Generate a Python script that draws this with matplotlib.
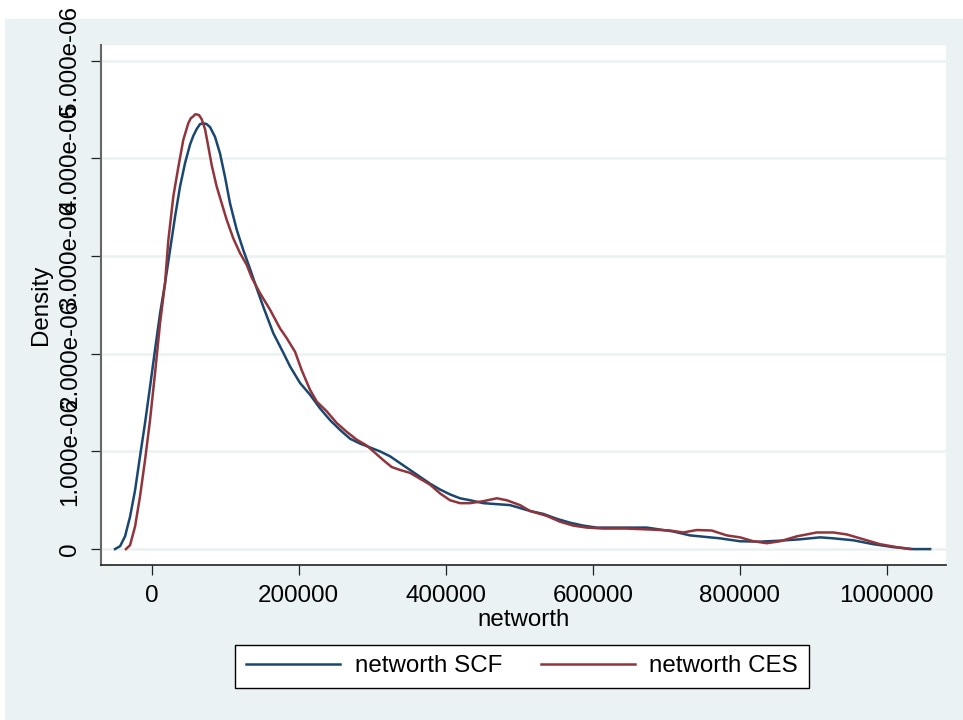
import matplotlib
matplotlib.use("Agg")
import matplotlib.pyplot as plt
from matplotlib.patches import Rectangle
from matplotlib.ticker import FixedLocator, FuncFormatter

plt.rcParams['font.family'] = ['Liberation Sans', 'DejaVu Sans']

# kernel density of networth, SCF sample (x in dollars, density in 1e-6)
scf_x = [-49900, -43000, -36300, -29500, -22700, -15900, -9100, -2300, 4500, 11300,
         18100, 24900, 31700, 38500, 45300, 52100, 56600, 61200, 65700, 70200, 74800, 79300, 86100,
         92900, 99700, 106500, 115600, 124600, 133700, 142800, 151800, 165400, 179000,
         188200, 201800, 215400, 229000, 242600, 256200, 269800, 283400, 297000, 310600,
         324200, 337800, 351400, 365000, 378600, 392200, 405800, 419400, 433000, 451100,
         469400, 487500, 501100, 514700, 532800, 551000, 569100, 587200, 605400, 632600,
         673400, 691500, 709600, 732400, 759500, 773200, 800400, 827600, 854800, 882000,
         909300, 927300, 954500, 981700, 1009000, 1036000, 1059000]
scf_y = [0.0, 0.03, 0.13, 0.33, 0.60, 0.95, 1.29, 1.66, 2.04, 2.41,
         2.72, 3.06, 3.40, 3.71, 3.95, 4.14, 4.23, 4.30, 4.35, 4.36, 4.35, 4.32, 4.22,
         4.05, 3.81, 3.54, 3.27, 3.06, 2.87, 2.67, 2.48, 2.21, 2.01,
         1.87, 1.70, 1.58, 1.44, 1.32, 1.22, 1.13, 1.08, 1.04, 1.00,
         0.95, 0.88, 0.81, 0.74, 0.67, 0.61, 0.56, 0.52, 0.50, 0.47,
         0.46, 0.45, 0.42, 0.39, 0.36, 0.31, 0.27, 0.24, 0.22, 0.22,
         0.22, 0.20, 0.18, 0.14, 0.12, 0.11, 0.08, 0.076, 0.086, 0.10,
         0.12, 0.11, 0.09, 0.05, 0.02, 0.0, 0.0]

# kernel density of networth, CES sample
ces_x = [-35000, -29500, -22700, -15900, -9100, -2300, 4500, 11300, 18100, 22600,
         29400, 36200, 43000, 49800, 53200, 56600, 59000, 61200, 64600, 68000, 72500, 77000, 81600,
         88400, 95200, 102000, 111000, 120100, 129200, 136000, 147300, 161000, 174500,
         183600, 195000, 204100, 215400, 224500, 238100, 251700, 265300, 278900, 292500,
         306100, 315100, 326500, 337800, 351400, 365000, 378600, 392200, 405800, 419400,
         433000, 451100, 469400, 483000, 501100, 514700, 537400, 555500, 573600, 591800,
         614400, 646200, 677900, 705100, 723200, 741500, 761800, 782300, 800400, 818500,
         836700, 854800, 877500, 904700, 927300, 945500, 968200, 990800, 1013500, 1031600]
ces_y = [0.0, 0.04, 0.23, 0.54, 0.91, 1.32, 1.80, 2.31, 2.72, 3.16,
         3.61, 3.91, 4.19, 4.36, 4.41, 4.43, 4.45, 4.45, 4.44, 4.40, 4.30, 4.12, 3.93,
         3.71, 3.54, 3.37, 3.18, 3.03, 2.91, 2.78, 2.62, 2.45, 2.26,
         2.16, 2.02, 1.83, 1.63, 1.51, 1.41, 1.29, 1.20, 1.12, 1.06,
         0.97, 0.91, 0.84, 0.81, 0.78, 0.72, 0.66, 0.57, 0.50, 0.47,
         0.47, 0.49, 0.52, 0.50, 0.45, 0.39, 0.34, 0.28, 0.24, 0.22,
         0.21, 0.21, 0.20, 0.19, 0.17, 0.195, 0.19, 0.14, 0.12, 0.08,
         0.06, 0.08, 0.13, 0.17, 0.17, 0.15, 0.10, 0.05, 0.02, 0.0]

x_ticks = [0, 200000, 400000, 600000, 800000, 1000000]
y_ticks = [0, 1, 2, 3, 4, 5]  # in units of 1e-6

blue = '#1A476F'
red = '#90353B'
bg = '#EAF2F3'

fig = plt.figure(figsize=(9.63, 7.2), dpi=100, facecolor='white')
fig.patches.append(Rectangle((5 / 963, 0), 1, (720 - 19) / 720, transform=fig.transFigure,
                             facecolor=bg, edgecolor='none', zorder=-10))

ax = fig.add_axes([101 / 963, (720 - 565) / 720, 845 / 963, 520 / 720])
ax.set_facecolor('white')

ax.plot(scf_x, [v * 1e-6 for v in scf_y], color=blue, lw=1.8, label='networth SCF', zorder=3)
ax.plot(ces_x, [v * 1e-6 for v in ces_y], color=red, lw=1.8, label='networth CES', zorder=3)

ax.set_xlim(-69000, 1080600)
ax.set_ylim(-0.163e-6, 5.16e-6)

ax.xaxis.set_major_locator(FixedLocator(x_ticks))
ax.xaxis.set_major_formatter(FuncFormatter(lambda v, p: '%d' % round(v)))
ax.yaxis.set_major_locator(FixedLocator([v * 1e-6 for v in y_ticks]))
ax.yaxis.set_major_formatter(FuncFormatter(lambda v, p: '0' if abs(v) < 1e-12 else '%.3e' % v))

for v in y_ticks:
    ax.axhline(v * 1e-6, color=bg, lw=1.8, zorder=1)

for s in ['top', 'right']:
    ax.spines[s].set_visible(False)
ax.spines['left'].set_color('#666666')
ax.spines['left'].set_linewidth(1.5)
ax.spines['bottom'].set_color('#222222')
ax.spines['bottom'].set_linewidth(1.2)

ax.tick_params(axis='both', direction='out', length=7.2, width=0.9, color='#222222',
               labelsize=17.4, pad=7)
plt.setp(ax.get_yticklabels(), rotation=90, va='center')

ax.set_xlabel('networth', fontsize=17.4, labelpad=2)
ax.set_ylabel('Density', fontsize=17.4, labelpad=5)

leg = fig.legend(loc='center', bbox_to_anchor=(522 / 963, (720 - 666.5) / 720), ncol=2,
                 fontsize=17.4, frameon=True, fancybox=False, framealpha=1,
                 edgecolor='black', handlelength=3.9, handletextpad=0.6,
                 columnspacing=1.6, borderpad=0.45)
leg.get_frame().set_linewidth(1.0)

fig.savefig('out.png', dpi=100, facecolor=fig.get_facecolor())
